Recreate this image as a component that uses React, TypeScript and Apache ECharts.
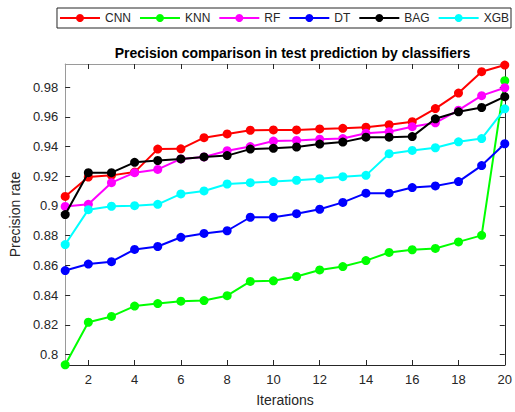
import React, { useEffect, useRef } from "react";
import * as echarts from "echarts";

const iterations = [1, 2, 3, 4, 5, 6, 7, 8, 9, 10, 11, 12, 13, 14, 15, 16, 17, 18, 19, 20];
const cnn = [0.9064, 0.9195, 0.9206, 0.9228, 0.9383, 0.9385, 0.946, 0.9485, 0.951, 0.9512, 0.9512, 0.9519, 0.9523, 0.953, 0.9547, 0.9567, 0.9656, 0.976, 0.9904, 0.9949];
const knn = [0.793, 0.8217, 0.8256, 0.8326, 0.8343, 0.8359, 0.8363, 0.8396, 0.8492, 0.8496, 0.8525, 0.8569, 0.8592, 0.8632, 0.8687, 0.8705, 0.8714, 0.8758, 0.8802, 0.9844];
const rf = [0.8997, 0.9011, 0.9157, 0.9224, 0.9246, 0.9317, 0.933, 0.9372, 0.94, 0.9437, 0.9441, 0.945, 0.9454, 0.949, 0.95, 0.9534, 0.956, 0.9645, 0.9743, 0.9796];
const dt = [0.8565, 0.8609, 0.8625, 0.8707, 0.8727, 0.8789, 0.8815, 0.8833, 0.8924, 0.8924, 0.8948, 0.8978, 0.9024, 0.9086, 0.9086, 0.9124, 0.9135, 0.9164, 0.9272, 0.9419];
const bag = [0.8942, 0.9224, 0.9224, 0.9294, 0.9306, 0.9317, 0.933, 0.9339, 0.9383, 0.9388, 0.9397, 0.9417, 0.943, 0.9463, 0.9463, 0.9467, 0.9587, 0.9634, 0.9663, 0.9736];
const xgb = [0.874, 0.8975, 0.8998, 0.9002, 0.9011, 0.9081, 0.9101, 0.9148, 0.9157, 0.9164, 0.9173, 0.9184, 0.9197, 0.9206, 0.9352, 0.9374, 0.9392, 0.9432, 0.9454, 0.9654];

const seriesNames = ["CNN", "KNN", "RF", "DT", "BAG", "XGB"];
const seriesColors = ["#ff0000", "#00ff00", "#ff00ff", "#0000ff", "#000000", "#00ffff"];
const seriesValues = [cnn, knn, rf, dt, bag, xgb];

const xTicks = [2, 4, 6, 8, 10, 12, 14, 16, 18, 20];
const yTicks = [0.8, 0.82, 0.84, 0.86, 0.88, 0.9, 0.92, 0.94, 0.96, 0.98];

const FONT = "'Liberation Sans', Arial, Helvetica, sans-serif";
const DARK = "#262626";
const GRAY = "#9a9a9a";

export default function App() {
  const ref = useRef<HTMLDivElement>(null);
  useEffect(() => {
    if (!ref.current) return;
    const chart = echarts.init(ref.current, null, { renderer: "svg" });
    const xMin = 1, xMax = 20, yMin = 0.7929, yMax = 0.9956;
    const tickCommon = { inside: true, length: 5, lineStyle: { color: DARK, width: 1 } };
    chart.setOption({
      animation: false,
      backgroundColor: "#ffffff",
      title: {
        text: "Precision comparison in test prediction by classifiers",
        left: 287.5,
        textAlign: "center",
        top: 41,
        textStyle: { fontFamily: FONT, fontSize: 14, fontWeight: "bold", color: "#000" },
      },
      legend: {
        data: seriesNames,
        right: 4,
        top: 8,
        width: 500,
        orient: "horizontal",
        itemWidth: 40,
        itemHeight: 10,
        itemGap: 8,
        padding: [4, 2],
        borderColor: DARK,
        borderWidth: 1,
        textStyle: { fontFamily: FONT, fontSize: 12, color: DARK },
      },
      grid: { left: 64, right: 4, top: 64, bottom: 44, containLabel: false },
      xAxis: [
        {
          type: "value",
          min: xMin,
          max: xMax,
          position: "bottom",
          name: "Iterations",
          nameLocation: "middle",
          nameGap: 28,
          nameTextStyle: { fontFamily: FONT, fontSize: 14, color: DARK },
          axisLine: { show: true, lineStyle: { color: DARK, width: 1 } },
          axisTick: { ...tickCommon, customValues: xTicks },
          axisLabel: { customValues: xTicks, fontFamily: FONT, fontSize: 13, color: DARK, margin: 8 },
          splitLine: { show: false },
        },
        {
          type: "value",
          min: xMin,
          max: xMax,
          position: "top",
          axisLine: { show: true, lineStyle: { color: GRAY, width: 1 } },
          axisTick: { ...tickCommon, customValues: xTicks },
          axisLabel: { show: false },
          splitLine: { show: false },
        },
      ],
      yAxis: [
        {
          type: "value",
          min: yMin,
          max: yMax,
          position: "left",
          name: "Precision rate",
          nameLocation: "middle",
          nameGap: 39,
          nameTextStyle: { fontFamily: FONT, fontSize: 14, color: DARK },
          axisLine: { show: true, lineStyle: { color: GRAY, width: 1 } },
          axisTick: { ...tickCommon, customValues: yTicks },
          axisLabel: {
            customValues: yTicks,
            fontFamily: FONT,
            fontSize: 13,
            color: DARK,
            margin: 7,
            formatter: (v: number) => String(Math.round(v * 100) / 100),
          },
          splitLine: { show: false },
        },
        {
          type: "value",
          min: yMin,
          max: yMax,
          position: "right",
          axisLine: { show: true, lineStyle: { color: DARK, width: 1 } },
          axisTick: { ...tickCommon, customValues: yTicks },
          axisLabel: { show: false },
          splitLine: { show: false },
        },
      ],
      series: seriesNames.map((name, i) => ({
        name,
        type: "line",
        xAxisIndex: 0,
        yAxisIndex: 0,
        data: iterations.map((x, j) => [x, seriesValues[i][j]]),
        symbol: "circle",
        symbolSize: 9,
        clip: false,
        color: seriesColors[i],
        lineStyle: { color: seriesColors[i], width: 2 },
        itemStyle: { color: seriesColors[i] },
        z: 2 + i,
      })),
    });
    return () => chart.dispose();
  }, []);
  return (
    <div
      ref={ref}
      style={{ position: "absolute", left: 0, top: 0, width: 515, height: 412 }}
    />
  );
}
